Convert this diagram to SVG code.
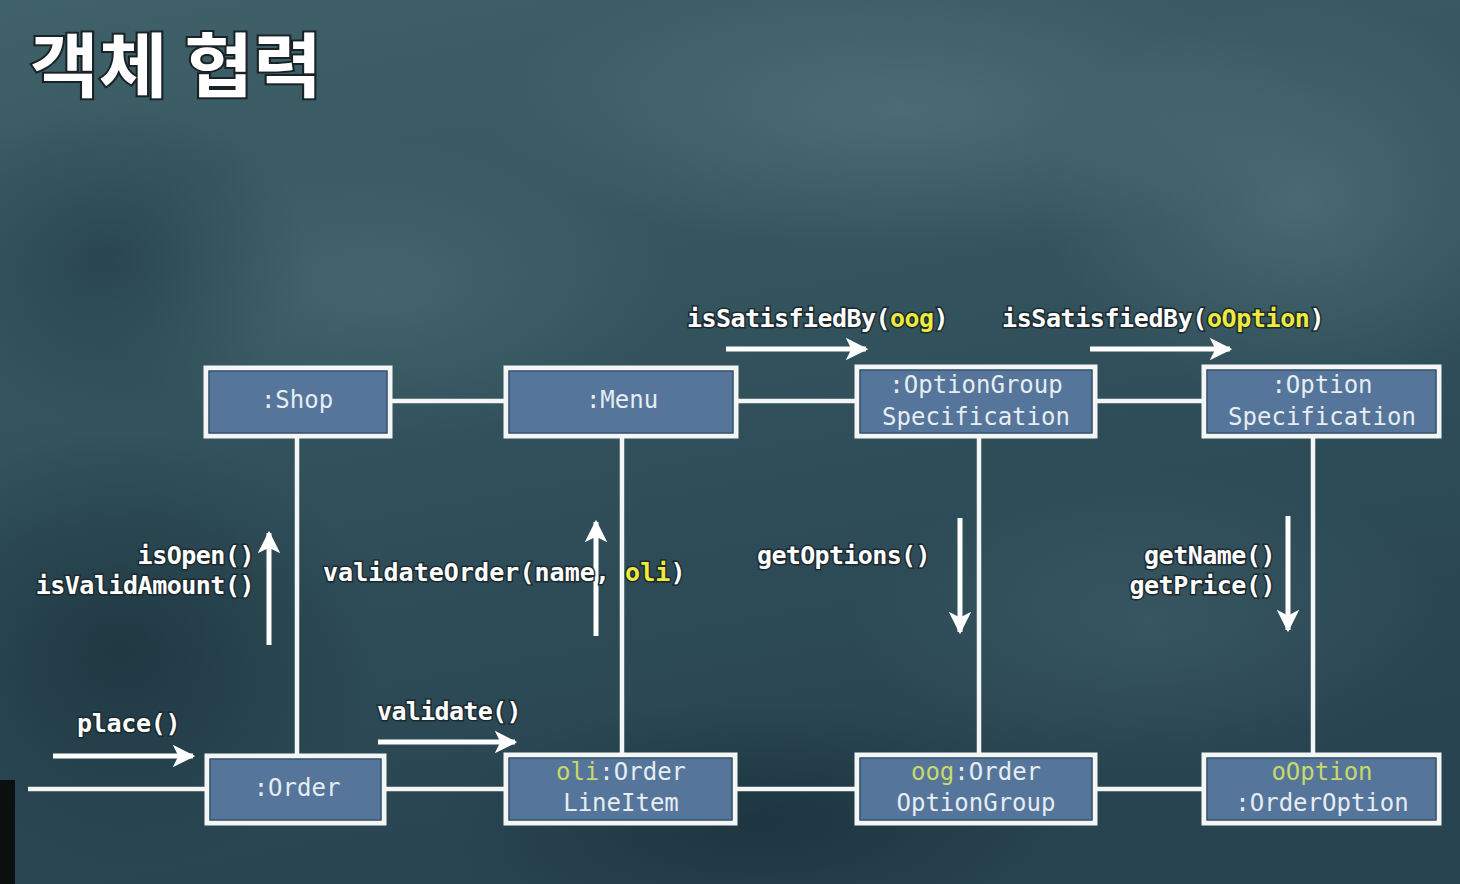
<svg xmlns="http://www.w3.org/2000/svg" width="1460" height="884" viewBox="0 0 1460 884">
<defs>
<linearGradient id="bg" x1="0" y1="0" x2="0.3" y2="1">
<stop offset="0" stop-color="#3f6169"/>
<stop offset="0.45" stop-color="#33535d"/>
<stop offset="1" stop-color="#284450"/>
</linearGradient>
<radialGradient id="blotA" cx="0.5" cy="0.5" r="0.5">
<stop offset="0" stop-color="#5f8086" stop-opacity="0.5"/>
<stop offset="1" stop-color="#5f8086" stop-opacity="0"/>
</radialGradient>
<radialGradient id="blotD" cx="0.5" cy="0.5" r="0.5">
<stop offset="0" stop-color="#142a33" stop-opacity="0.55"/>
<stop offset="1" stop-color="#142a33" stop-opacity="0"/>
</radialGradient>
<marker id="ah" viewBox="0 0 10 10" refX="9" refY="5" markerWidth="4.5" markerHeight="4.5" orient="auto" markerUnits="strokeWidth">
<path d="M0,0 L10,5 L0,10 L2.5,5 Z" fill="#ffffff"/>
</marker>
<style>
.node rect.o{fill:#55769a;stroke:#f4f6f6;stroke-width:5}
.node rect.i{fill:none;stroke:#2f4a62;stroke-width:1.2}
.nt{font-family:"DejaVu Sans Mono","Liberation Mono",monospace;font-size:24px;fill:#e6edf3;text-anchor:middle}
.ny{fill:#c9d86a}
.conn line{stroke:#f4f6f6;stroke-width:4.5}
.arr{stroke:#ffffff;stroke-width:5;marker-end:url(#ah)}
.lbl{font-family:"DejaVu Sans Mono","Liberation Mono",monospace;font-size:25px;font-weight:bold;fill:#ffffff;stroke:#1c2a30;stroke-width:3;paint-order:stroke;letter-spacing:-0.5px}
.ly{fill:#f0ea3a}
</style>
</defs>
<rect width="1460" height="884" fill="url(#bg)"/>
<ellipse cx="900" cy="110" rx="420" ry="140" fill="url(#blotA)"/>
<ellipse cx="380" cy="290" rx="300" ry="150" fill="url(#blotA)" opacity="0.7"/>
<ellipse cx="1300" cy="200" rx="260" ry="200" fill="url(#blotA)"/>
<ellipse cx="110" cy="260" rx="200" ry="160" fill="url(#blotD)" opacity="0.7"/>
<ellipse cx="120" cy="650" rx="260" ry="220" fill="url(#blotD)"/>
<ellipse cx="760" cy="820" rx="320" ry="120" fill="url(#blotD)"/>
<ellipse cx="1150" cy="620" rx="300" ry="150" fill="url(#blotA)" opacity="0.5"/>
<rect x="0" y="780" width="15" height="104" fill="#0c0f10"/>

<text x="30" y="92" font-family="Noto Sans CJK KR, sans-serif" font-weight="bold" font-size="70" fill="#ffffff" stroke="#1a2226" stroke-width="4" paint-order="stroke" textLength="292" lengthAdjust="spacingAndGlyphs">객체 협력</text>

<g id="connectors" class="conn">
<line x1="391" y1="401" x2="504" y2="401"/>
<line x1="738" y1="401" x2="855" y2="401"/>
<line x1="1097" y1="401" x2="1202" y2="401"/>
<line x1="28" y1="789" x2="205" y2="789"/>
<line x1="386" y1="789" x2="504" y2="789"/>
<line x1="737" y1="789" x2="855" y2="789"/>
<line x1="1097" y1="789" x2="1202" y2="789"/>
<line x1="297" y1="438" x2="297" y2="754"/>
<line x1="622" y1="438" x2="622" y2="753"/>
<line x1="979" y1="438" x2="979" y2="753"/>
<line x1="1313" y1="438" x2="1313" y2="753"/>
</g>

<g id="node-shop" class="node">
<rect class="o" x="206" y="368" width="184" height="68"/>
<rect class="i" x="209" y="371" width="178" height="62"/>
<text class="nt" x="297" y="408">:Shop</text>
</g>
<g id="node-menu" class="node">
<rect class="o" x="506" y="368" width="230" height="68"/>
<rect class="i" x="509" y="371" width="224" height="62"/>
<text class="nt" x="622" y="408">:Menu</text>
</g>
<g id="node-ogs" class="node">
<rect class="o" x="857" y="367" width="238" height="69"/>
<rect class="i" x="860" y="370" width="232" height="63"/>
<text class="nt" x="976" y="393">:OptionGroup</text>
<text class="nt" x="976" y="425">Specification</text>
</g>
<g id="node-os" class="node">
<rect class="o" x="1204" y="367" width="235" height="69"/>
<rect class="i" x="1207" y="370" width="229" height="63"/>
<text class="nt" x="1322" y="393">:Option</text>
<text class="nt" x="1322" y="425">Specification</text>
</g>
<g id="node-order" class="node">
<rect class="o" x="207" y="756" width="177" height="67"/>
<rect class="i" x="210" y="759" width="171" height="61"/>
<text class="nt" x="297" y="796">:Order</text>
</g>
<g id="node-oli" class="node">
<rect class="o" x="506" y="755" width="229" height="68"/>
<rect class="i" x="509" y="758" width="223" height="62"/>
<text class="nt" x="621" y="780"><tspan class="ny">oli</tspan>:Order</text>
<text class="nt" x="621" y="811">LineItem</text>
</g>
<g id="node-oog" class="node">
<rect class="o" x="857" y="755" width="238" height="68"/>
<rect class="i" x="860" y="758" width="232" height="62"/>
<text class="nt" x="976" y="780"><tspan class="ny">oog</tspan>:Order</text>
<text class="nt" x="976" y="811">OptionGroup</text>
</g>
<g id="node-oopt" class="node">
<rect class="o" x="1204" y="755" width="235" height="68"/>
<rect class="i" x="1207" y="758" width="229" height="62"/>
<text class="nt ny" x="1322" y="780">oOption</text>
<text class="nt" x="1322" y="811">:OrderOption</text>
</g>

<g id="messages">
<line class="arr" x1="726" y1="349" x2="866" y2="349"/>
<line class="arr" x1="1090" y1="349" x2="1230" y2="349"/>
<line class="arr" x1="269" y1="645" x2="269" y2="533"/>
<line class="arr" x1="596" y1="636" x2="596" y2="522"/>
<line class="arr" x1="960" y1="518" x2="960" y2="632"/>
<line class="arr" x1="1288" y1="516" x2="1288" y2="630"/>
<line class="arr" x1="53" y1="756" x2="193" y2="756"/>
<line class="arr" x1="378" y1="742" x2="515" y2="742"/>

<text class="lbl" x="687" y="327" textLength="261">isSatisfiedBy(<tspan class="ly">oog</tspan>)</text>
<text class="lbl" x="1002" y="327" textLength="322">isSatisfiedBy(<tspan class="ly">oOption</tspan>)</text>
<text class="lbl" x="254" y="564" text-anchor="end">isOpen()</text>
<text class="lbl" x="254" y="594" text-anchor="end">isValidAmount()</text>
<text class="lbl" x="323" y="581" textLength="362">validateOrder(name, <tspan class="ly">oli</tspan>)</text>
<text class="lbl" x="757" y="564" textLength="173">getOptions()</text>
<text class="lbl" x="1275" y="564" text-anchor="end">getName()</text>
<text class="lbl" x="1275" y="594" text-anchor="end">getPrice()</text>
<text class="lbl" x="77" y="732" textLength="103">place()</text>
<text class="lbl" x="377" y="720" textLength="144">validate()</text>
</g>
</svg>
